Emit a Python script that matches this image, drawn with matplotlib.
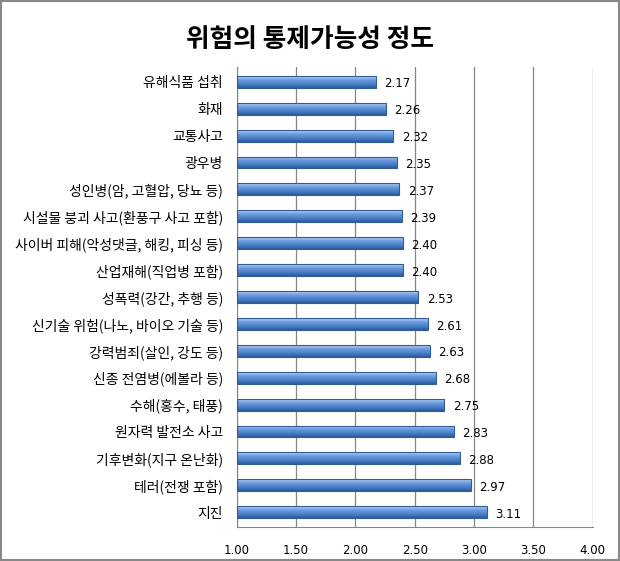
import numpy as np
import matplotlib.pyplot as plt
from matplotlib.patches import Rectangle
from matplotlib.colors import LinearSegmentedColormap

plt.rcParams['font.family'] = ['Noto Sans CJK KR', 'DejaVu Sans']

title = "위험의 통제가능성 정도"
labels = ["유해식품 섭취", "화재", "교통사고", "광우병", "성인병(암, 고혈압, 당뇨 등)",
          "시설물 붕괴 사고(환풍구 사고 포함)", "사이버 피해(악성댓글, 해킹, 피싱 등)",
          "산업재해(직업병 포함)", "성폭력(강간, 추행 등)", "신기술 위험(나노, 바이오 기술 등)",
          "강력범죄(살인, 강도 등)", "신종 전염병(에볼라 등)", "수해(홍수, 태풍)",
          "원자력 발전소 사고", "기후변화(지구 온난화)", "테러(전쟁 포함)", "지진"]
values = [2.17, 2.26, 2.32, 2.35, 2.37, 2.39, 2.40, 2.40, 2.53, 2.61, 2.63, 2.68,
          2.75, 2.83, 2.88, 2.97, 3.11]
xticks = [1.0, 1.5, 2.0, 2.5, 3.0, 3.5, 4.0]

fig = plt.figure(figsize=(6.2, 5.61), dpi=100)
fig.patches.append(Rectangle((0.002, 0.002), 0.996, 0.996, transform=fig.transFigure,
                             fill=False, edgecolor='#888888', lw=1.5))
ax = fig.add_axes([0.382, 0.0606, 0.574, 0.82])

xmin = 1.0
h = 0.44
y = np.arange(len(values))
bars = ax.barh(y, np.array(values) - xmin, left=xmin, height=h, color='none',
               edgecolor='#2f5d95', lw=0.8, zorder=3)

# vertical gradient for each bar (light top, dark bottom)
grad = np.linspace(0, 1, 64).reshape(-1, 1)
cmap = LinearSegmentedColormap.from_list('b', ['#b5d0f0', '#6d9be0', '#4a7fc8', '#2c5c9c'])
for b, v, yi in zip(bars, values, y):
    im = ax.imshow(grad, cmap=cmap, aspect='auto', zorder=2,
                   extent=(xmin, v, yi + h / 2, yi - h / 2), interpolation='bilinear')
    im.set_clip_path(b)
    ax.text(v + 0.07, yi + 0.08, f"{v:.2f}", va='center', ha='left', fontsize=8.5,
            family=['DejaVu Sans'], zorder=4)

ax.set_xlim(1.0, 4.0)
ax.set_ylim(len(values) - 0.45, -0.55)
ax.set_xticks(xticks)
ax.set_xticklabels([f"{t:.2f}" for t in xticks], fontsize=8.5, family=['DejaVu Sans'])
ax.set_yticks(y)
ax.set_yticklabels(labels, fontsize=10)
ax.tick_params(length=0, pad=10)
ax.tick_params(axis='x', pad=12)
ax.grid(axis='x', color='#868686', lw=0.9, zorder=0)
for s in ['top', 'right']:
    ax.spines[s].set_visible(False)
for s in ['left', 'bottom']:
    ax.spines[s].set_color('#868686')

fig.text(0.5, 0.93, title, ha='center', va='center', fontsize=18.5, fontweight='bold')

fig.savefig("out.png", dpi=100)
